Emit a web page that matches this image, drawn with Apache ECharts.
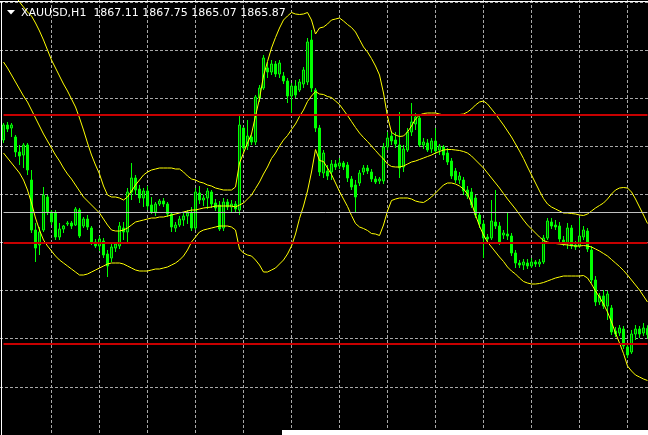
<!DOCTYPE html>
<html><head><meta charset="utf-8">
<style>html,body{margin:0;padding:0;background:#000;overflow:hidden}#c{width:648px;height:435px;}</style>
<script src="https://cdn.jsdelivr.net/npm/echarts@6/dist/echarts.min.js"></script>
</head><body><div id="c"></div>
<script>
const symbol = 'XAUUSD', timeframe = 'H1';
const opens = [1904.8,1907.8,1907.2,1905.4,1902.4,1901.8,1903.8,1896.8,1886.8,1883.8,
1886.8,1893.4,1890.4,1890.2,1885.4,1887.0,1888.0,1888.2,1887.8,1890.8,
1887.6,1889.0,1887.2,1884.4,1883.6,1884.6,1882.0,1881.2,1883.2,1883.6,
1887.2,1886.4,1894.4,1897.2,1895.0,1893.2,1894.6,1891.8,1890.4,1892.0,
1892.6,1892.0,1890.0,1887.2,1887.8,1888.8,1889.6,1890.2,1887.2,1894.2,
1892.8,1893.2,1894.4,1892.2,1891.8,1887.2,1892.4,1891.4,1892.0,1890.8,
1907.2,1903.6,1905.4,1904.4,1913.2,1915.2,1919.2,1918.4,1920.0,1918.0,
1917.6,1916.6,1913.6,1915.6,1914.8,1916.0,1916.4,1924.8,1914.8,1907.2,
1898.2,1898.6,1898.4,1900.0,1899.6,1900.2,1899.8,1897.0,1895.8,1896.2,
1898.4,1899.2,1898.4,1897.0,1896.6,1896.6,1903.4,1905.6,1904.8,1903.8,
1899.4,1902.8,1906.4,1908.0,1909.2,1903.8,1904.2,1903.0,1904.6,1902.8,
1903.4,1902.2,1900.6,1898.6,1896.8,1896.8,1894.8,1894.4,1893.2,1889.8,
1888.0,1885.4,1885.2,1888.4,1887.6,1885.8,1886.0,1885.6,1882.2,1880.2,
1879.8,1880.2,1879.6,1880.4,1880.0,1880.4,1885.2,1888.4,1887.8,1887.6,
1884.8,1884.2,1887.2,1883.8,1883.6,1885.4,1886.6,1882.8,1876.8,1872.4,
1873.6,1871.6,1871.2,1866.6,1866.2,1867.0,1863.4,1862.4,1866.0,1867.0,
1866.2,1867.11];
const highs = [1908.2,1908.4,1908.2,1905.8,1903.8,1904.2,1904.2,1898.8,1888.2,1887.4,
1895.4,1893.8,1890.8,1890.8,1888.2,1887.8,1888.6,1888.6,1891.4,1891.2,
1889.4,1889.8,1887.6,1885.0,1885.6,1885.2,1882.8,1884.0,1884.4,1888.4,
1888.4,1895.2,1900.2,1897.8,1895.8,1895.2,1895.6,1893.4,1892.4,1893.0,
1893.2,1892.4,1890.4,1888.4,1889.6,1890.2,1890.8,1891.4,1895.2,1895.6,
1893.8,1895.2,1894.8,1893.0,1892.6,1893.2,1893.0,1892.8,1892.6,1909.8,
1907.4,1908.8,1905.8,1913.8,1915.8,1921.8,1920.4,1920.8,1920.6,1920.8,
1918.4,1917.2,1916.2,1916.8,1917.0,1919.4,1925.2,1926.8,1915.2,1907.8,
1902.8,1899.8,1900.8,1900.8,1901.2,1900.6,1900.4,1897.6,1896.8,1898.8,
1899.8,1899.8,1899.0,1897.6,1897.4,1904.2,1906.4,1906.6,1906.4,1910.4,
1903.8,1907.2,1912.2,1910.2,1910.0,1905.2,1905.0,1905.2,1907.2,1904.0,
1903.8,1903.2,1901.2,1899.2,1898.4,1897.4,1895.6,1895.2,1893.8,1890.4,
1888.8,1886.0,1892.8,1894.8,1888.4,1886.8,1890.4,1886.2,1882.8,1880.8,
1881.0,1881.0,1881.2,1880.8,1881.0,1885.8,1889.2,1889.2,1888.8,1888.4,
1885.6,1888.2,1887.8,1884.6,1889.2,1887.6,1887.2,1883.6,1877.6,1874.2,
1874.8,1874.6,1871.8,1867.4,1867.8,1867.6,1864.2,1866.8,1867.8,1867.6,
1868.2,1867.75];
const lows = [1904.2,1906.4,1905.4,1901.4,1899.8,1899.2,1897.8,1886.2,1880.4,1881.8,
1886.4,1889.8,1887.8,1884.8,1884.8,1886.2,1887.6,1887.0,1887.6,1885.2,
1887.2,1886.8,1883.8,1883.2,1882.6,1881.2,1877.4,1880.4,1882.4,1883.0,
1884.8,1884.2,1892.8,1893.8,1892.2,1891.4,1890.8,1890.0,1889.6,1891.6,
1891.4,1889.4,1886.4,1886.4,1887.4,1887.6,1888.0,1886.6,1886.8,1892.0,
1891.6,1891.0,1891.2,1890.6,1886.6,1886.6,1890.8,1890.4,1890.2,1889.8,
1902.4,1902.8,1903.8,1903.8,1912.4,1914.8,1917.2,1917.8,1917.4,1917.2,
1916.0,1912.2,1910.2,1913.2,1914.4,1915.2,1915.8,1914.4,1906.4,1897.6,
1897.2,1896.8,1896.8,1898.8,1899.0,1898.8,1896.4,1894.8,1890.2,1895.6,
1897.8,1898.0,1896.4,1896.0,1896.0,1896.0,1902.8,1903.8,1903.2,1897.2,
1898.4,1902.4,1905.6,1906.8,1903.4,1903.0,1902.4,1902.2,1902.0,1901.8,
1900.8,1899.8,1897.0,1896.2,1896.0,1893.8,1893.0,1891.2,1889.2,1887.2,
1881.2,1884.2,1884.8,1887.0,1883.8,1885.0,1884.8,1881.6,1879.2,1879.2,
1878.8,1879.0,1879.2,1879.4,1879.4,1880.0,1884.8,1887.0,1886.8,1884.4,
1883.6,1883.0,1883.0,1882.8,1883.2,1884.8,1882.4,1876.2,1871.6,1871.8,
1871.0,1868.8,1865.8,1865.4,1865.6,1863.0,1861.2,1862.0,1864.8,1865.2,
1865.6,1865.07];
const closes = [1907.8,1907.0,1907.8,1902.4,1901.6,1903.8,1898.8,1886.8,1883.2,1886.4,
1893.8,1890.4,1888.4,1885.4,1887.0,1887.6,1888.2,1887.6,1891.0,1885.6,
1889.0,1887.4,1884.4,1883.6,1885.0,1881.8,1879.6,1883.4,1884.0,1887.6,
1886.4,1894.4,1897.2,1894.8,1893.2,1894.6,1891.6,1890.4,1892.0,1892.6,
1892.0,1890.0,1887.4,1887.8,1889.0,1889.6,1890.2,1887.2,1894.4,1892.8,
1893.2,1894.6,1892.0,1891.2,1887.0,1892.4,1891.4,1892.0,1891.0,1907.8,
1903.2,1905.6,1904.4,1913.4,1915.2,1921.2,1918.4,1920.0,1918.0,1920.2,
1916.6,1913.6,1915.6,1913.8,1916.4,1918.8,1924.4,1915.2,1907.2,1898.4,
1902.2,1897.6,1900.0,1899.4,1900.2,1899.4,1897.2,1895.4,1893.4,1898.2,
1899.2,1898.6,1897.0,1896.4,1897.0,1903.4,1905.2,1904.6,1904.0,1899.2,
1903.0,1906.4,1908.4,1909.4,1903.8,1904.4,1902.8,1904.6,1902.6,1903.6,
1901.8,1900.4,1897.6,1896.8,1897.6,1894.6,1893.6,1891.8,1889.8,1888.0,
1885.2,1885.0,1888.6,1887.6,1884.4,1886.2,1885.6,1882.2,1880.2,1879.8,
1880.4,1879.6,1880.4,1880.0,1880.4,1885.2,1888.6,1887.6,1887.4,1885.0,
1884.2,1887.2,1883.6,1883.4,1885.6,1886.8,1883.0,1876.8,1872.4,1873.6,
1871.6,1874.0,1866.4,1866.0,1867.2,1863.6,1861.8,1866.0,1867.0,1866.0,
1867.2,1865.87];
const upperBand = [1937.8,1936.4,1935.0,1933.6,1932.4,1931.4,1930.4,1929.6,1928.2,1926.6,
1924.8,1922.8,1920.8,1919.2,1917.6,1916.0,1914.6,1913.0,1911.4,1909.2,
1906.8,1904.2,1901.8,1899.8,1898.0,1895.6,1893.8,1893.4,1893.4,1893.2,
1892.8,1893.4,1894.6,1895.8,1896.8,1897.8,1898.4,1898.8,1899.0,1899.2,
1899.2,1899.2,1899.2,1899.0,1899.0,1898.4,1897.6,1897.0,1896.8,1896.4,
1896.2,1895.8,1895.6,1895.2,1895.0,1894.8,1894.8,1894.8,1895.4,1900.2,
1902.2,1904.2,1906.0,1909.6,1913.1,1917.6,1920.5,1923.2,1925.3,1927.2,
1928.8,1929.6,1930.3,1930.0,1929.9,1930.0,1930.3,1928.8,1926.0,1927.2,
1927.4,1928.0,1928.8,1929.0,1929.2,1928.6,1927.9,1927.3,1926.4,1924.9,
1923.4,1922.4,1921.1,1919.6,1917.8,1914.2,1909.5,1906.3,1905.8,1905.5,
1905.6,1906.4,1907.6,1909.0,1909.8,1910.1,1910.2,1910.2,1910.2,1910.0,
1909.8,1909.8,1909.8,1909.8,1909.9,1910.0,1910.4,1911.0,1911.8,1912.4,
1912.6,1912.0,1911.0,1910.0,1908.9,1907.8,1906.6,1905.4,1904.0,1902.6,
1901.1,1899.4,1897.8,1896.2,1894.6,1893.1,1892.0,1891.4,1891.0,1890.6,
1890.2,1890.2,1890.1,1890.0,1889.8,1889.7,1890.0,1890.6,1891.2,1891.7,
1892.2,1893.0,1894.0,1894.8,1895.2,1895.3,1895.2,1894.4,1893.0,1891.4,
1889.8,1888.1];
const middleBand = [1920.4,1919.2,1917.8,1916.4,1915.0,1913.6,1912.4,1910.8,1909.2,1907.6,
1906.0,1904.6,1903.2,1901.8,1900.6,1899.2,1898.0,1897.0,1895.8,1894.6,
1893.4,1892.6,1891.8,1891.0,1890.2,1889.0,1887.8,1886.8,1886.6,1886.6,
1886.8,1887.2,1887.8,1888.4,1888.6,1888.8,1889.0,1889.2,1889.2,1889.4,
1889.4,1889.6,1889.8,1890.0,1890.2,1890.4,1890.6,1890.8,1890.8,1891.0,
1891.2,1891.3,1891.4,1891.6,1891.6,1891.6,1891.6,1891.6,1891.4,1891.8,
1892.2,1893.0,1893.8,1895.1,1896.4,1898.0,1899.4,1901.1,1902.2,1903.6,
1904.8,1905.7,1906.9,1908.0,1909.5,1910.8,1912.5,1913.6,1914.5,1914.0,
1913.9,1913.5,1913.3,1912.6,1911.9,1910.8,1909.7,1908.5,1907.3,1906.2,
1905.3,1904.5,1903.6,1902.7,1901.8,1901.0,1900.0,1899.5,1899.4,1899.4,
1899.6,1900.0,1900.4,1900.6,1900.9,1901.2,1901.5,1901.8,1902.2,1902.5,
1902.8,1902.9,1902.9,1902.8,1902.7,1902.5,1902.2,1901.6,1900.8,1900.0,
1899.2,1898.2,1897.2,1896.2,1895.2,1894.1,1893.0,1892.0,1891.0,1889.9,
1888.8,1887.8,1887.0,1886.2,1885.4,1884.7,1884.4,1884.2,1884.1,1884.0,
1883.9,1883.8,1883.7,1883.6,1883.6,1883.7,1883.6,1883.4,1883.0,1882.6,
1882.1,1881.6,1880.9,1880.2,1879.5,1878.7,1877.8,1876.8,1875.8,1874.8,
1873.6,1872.4];
const lowerBand = [1902.2,1901.2,1900.2,1899.2,1898.2,1896.8,1894.8,1892.2,1889.2,1886.8,
1884.8,1883.6,1882.6,1881.6,1880.8,1880.2,1879.6,1879.0,1878.4,1877.8,
1877.8,1878.0,1878.4,1878.8,1879.2,1879.6,1880.0,1880.2,1880.2,1880.2,
1880.0,1879.6,1879.2,1878.8,1878.6,1878.6,1878.6,1878.8,1879.0,1879.0,
1879.2,1879.4,1879.8,1880.2,1880.8,1881.6,1882.8,1884.4,1885.4,1886.4,
1886.8,1887.0,1887.2,1887.4,1887.6,1887.6,1887.6,1887.4,1886.8,1883.0,
1882.2,1881.8,1881.6,1880.8,1879.8,1878.4,1878.4,1878.8,1879.2,1880.0,
1880.8,1882.0,1883.6,1886.0,1889.1,1891.6,1894.6,1898.4,1902.9,1900.7,
1900.5,1899.2,1897.9,1896.2,1894.5,1893.0,1891.5,1889.7,1888.1,1887.4,
1887.1,1886.7,1886.1,1886.0,1885.7,1887.8,1890.6,1892.7,1893.0,1893.2,
1893.2,1893.2,1893.0,1892.6,1892.4,1892.3,1892.8,1893.4,1894.2,1895.0,
1895.8,1896.2,1896.2,1896.0,1895.6,1895.0,1894.0,1892.2,1889.8,1887.6,
1885.8,1884.4,1883.4,1882.4,1881.4,1880.5,1879.4,1878.6,1878.0,1877.2,
1876.5,1876.2,1876.0,1876.0,1876.1,1876.3,1876.6,1876.9,1877.2,1877.4,
1877.6,1877.6,1877.6,1877.6,1877.6,1877.7,1877.2,1876.0,1874.6,1873.4,
1872.0,1870.4,1868.4,1866.2,1864.2,1862.1,1859.6,1858.6,1857.8,1857.4,
1857.0,1856.7];
const redLevels = [1909.8, 1884.3, 1864.1];
const silverLevels = [1890.3];

const chart = echarts.init(document.getElementById('c'), null, {renderer: 'canvas'});
const n = opens.length;
const cats = opens.map((_, i) => i);
const candles = opens.map((o, i) => [o, closes[i], lows[i], highs[i]]);
const last = n - 1;
const f = v => v.toFixed(2);
const title = symbol + ',' + timeframe + '  ' + f(opens[last]) + ' ' + f(highs[last]) + ' ' + f(lows[last]) + ' ' + f(closes[last]);
const gridLine = {color: '#a8a8a8', type: [3, 2], width: 1};
const band = d => ({type: 'line', data: d, xAxisIndex: 0, yAxisIndex: 0, symbol: 'none', silent: true,
  lineStyle: {color: '#ffff00', width: 1}, z: 3});

const option = {
  backgroundColor: '#000',
  animation: false,
  grid: [
    {left: 3.5, right: 0.5, top: 0, bottom: 0},
    {left: 0, right: 0, top: 1.83, bottom: -6.3}
  ],
  xAxis: [
    {type: 'category', data: cats, boundaryGap: false, gridIndex: 0,
     axisLine: {show: false}, axisTick: {show: false}, axisLabel: {show: false},
     splitLine: {show: true, interval: (i) => i > 0 && i % 12 === 0, lineStyle: gridLine}},
    {type: 'value', gridIndex: 1, min: 0, max: 1, show: false}
  ],
  yAxis: [
    {type: 'value', gridIndex: 0, min: 1845.8, max: 1932.8,
     axisLine: {show: false}, axisTick: {show: false}, axisLabel: {show: false}, splitLine: {show: false}},
    {type: 'value', gridIndex: 1, min: 0, max: 9, interval: 1,
     axisLine: {show: false}, axisTick: {show: false}, axisLabel: {show: false},
     splitLine: {show: true, lineStyle: gridLine}}
  ],
  series: [
    {type: 'candlestick', data: candles, xAxisIndex: 0, yAxisIndex: 0, barWidth: 2, z: 2,
     itemStyle: {color: '#006400', color0: '#00ff00', borderColor: '#00ff00', borderColor0: '#00ff00', borderWidth: 1},
     markLine: {symbol: 'none', silent: true, animation: false, label: {show: false},
       data: redLevels.map(v => ({yAxis: v, lineStyle: {color: '#c80000', width: 2, type: 'solid'}}))
         .concat(silverLevels.map(v => ({yAxis: v, lineStyle: {color: '#c0c0c0', width: 1, type: 'solid'}})))}
    },
    band(upperBand), band(middleBand), band(lowerBand)
  ],
  graphic: [
    {type: 'line', shape: {x1: 0, y1: 1.5, x2: 648, y2: 1.5}, style: {stroke: '#ffffff', lineWidth: 1}, z: 100},
    {type: 'line', shape: {x1: 1.5, y1: 1, x2: 1.5, y2: 435}, style: {stroke: '#ffffff', lineWidth: 1}, z: 100},
    {type: 'rect', shape: {x: 282, y: 430, width: 366, height: 5}, style: {fill: '#ffffff'}, z: 100},
    {type: 'polygon', shape: {points: [[7, 10], [15, 10], [11, 14.5]]}, style: {fill: '#ffffff'}, z: 100},
    {type: 'text', x: 21, y: 12.9, z: 100,
     style: {text: title, fill: '#ffffff', font: '11px "DejaVu Sans"', verticalAlign: 'middle', textVerticalAlign: 'middle'}}
  ]
};
chart.setOption(option);
</script>
</body></html>
